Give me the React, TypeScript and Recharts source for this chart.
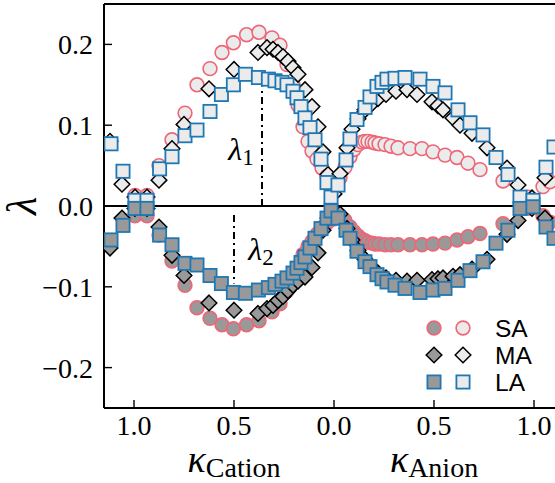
import React from 'react';
import { ScatterChart, Scatter, XAxis, YAxis, ReferenceLine, ReferenceDot, Legend, Label } from 'recharts';

// ---- axes ----
const X_DOMAIN: [number, number] = [-1.15, 1.115];
const Y_DOMAIN: [number, number] = [-0.25, 0.25];
const xTicks = [-1, -0.5, 0, 0.5, 1];
const yTicks = [-0.2, -0.1, 0, 0.1, 0.2];
const xGroupLabels = ['Cation', 'Anion'];
const xGroupCenters = [-0.5, 0.5];
const seriesNames = ['SA', 'MA', 'LA'];

// ---- data (negative kappa = cation side, positive = anion side) ----
const saKappa = [
  -0.995, -0.935, -0.875, -0.81, -0.745, -0.685, -0.62, -0.56, -0.503, -0.437, -0.375, -0.31, -0.27, -0.235,
  -0.205, -0.18, -0.155, -0.13, -0.11, -0.085, -0.06, -0.035, 0,
  0.03, 0.055, 0.08, 0.1, 0.12, 0.14, 0.155, 0.17, 0.19, 0.205, 0.225, 0.255, 0.285, 0.32, 0.38, 0.44, 0.495,
  0.555, 0.615, 0.67, 0.73, 0.845, 0.97, 1.045, 1.08,
];
const saLambda1 = [
  0.013, 0.013, 0.05, 0.082, 0.115, 0.15, 0.17, 0.19, 0.202, 0.212, 0.215, 0.208, 0.199, 0.175,
  0.15, 0.125, 0.098, 0.08, 0.068, 0.058, 0.047, 0.037, 0.028,
  0.035, 0.048, 0.061, 0.07, 0.076, 0.079, 0.08, 0.08, 0.079, 0.078, 0.077, 0.076, 0.074, 0.072, 0.071, 0.071, 0.067,
  0.063, 0.06, 0.053, 0.045, 0.031, 0.011, 0.024, 0.03,
];
const saLambda2 = [
  -0.012, -0.012, -0.036, -0.068, -0.098, -0.126, -0.139, -0.147, -0.152, -0.147, -0.142, -0.131, -0.121, -0.105,
  -0.09, -0.075, -0.06, -0.05, -0.044, -0.035, -0.027, -0.021, -0.016,
  -0.012, -0.018, -0.026, -0.032, -0.037, -0.041, -0.043, -0.045, -0.046, -0.047, -0.047, -0.048, -0.048, -0.048, -0.048, -0.048, -0.047,
  -0.046, -0.042, -0.038, -0.034, -0.022, -0.003, -0.012, -0.02,
];

const maKappa = [
  -1.12, -1.06, -0.995, -0.935, -0.875, -0.81, -0.75, -0.625, -0.5, -0.38, -0.335, -0.305, -0.28, -0.255,
  -0.23, -0.205, -0.18, -0.145, -0.11, -0.08, -0.055, -0.03, 0,
  0.03, 0.065, 0.09, 0.12, 0.155, 0.19, 0.22, 0.26, 0.31, 0.365, 0.415, 0.49, 0.52, 0.545, 0.595, 0.63, 0.69,
  0.765, 0.865, 0.92, 0.99, 1.055,
];
const maLambda1 = [
  0.08, 0.027, 0.011, 0.011, 0.032, 0.071, 0.101, 0.145, 0.169, 0.19, 0.196, 0.194, 0.19, 0.185,
  0.179, 0.171, 0.163, 0.144, 0.123, 0.098, 0.067, 0.039, 0.015,
  0.04, 0.072, 0.095, 0.108, 0.119, 0.127, 0.133, 0.138, 0.142, 0.144, 0.138, 0.129, 0.124, 0.119, 0.109, 0.1, 0.09,
  0.072, 0.047, 0.026, 0.01, 0.035,
];
const maLambda2 = [
  -0.052, -0.015, -0.003, -0.003, -0.026, -0.061, -0.086, -0.12, -0.129, -0.133, -0.127, -0.123, -0.117, -0.112,
  -0.105, -0.098, -0.093, -0.088, -0.076, -0.058, -0.03, -0.015, -0.005,
  -0.01, -0.028, -0.042, -0.055, -0.066, -0.076, -0.083, -0.089, -0.092, -0.093, -0.092, -0.091, -0.09, -0.089, -0.087, -0.085, -0.078,
  -0.066, -0.035, -0.018, -0.003, -0.015,
];

const laKappa = [
  -1.115, -1.055, -0.995, -0.935, -0.872, -0.81, -0.745, -0.685, -0.62, -0.563, -0.503, -0.443, -0.378, -0.328,
  -0.295, -0.26, -0.235, -0.205, -0.185, -0.165, -0.145, -0.12, -0.095, -0.065, -0.035, -0.015,
  0.02, 0.06, 0.08, 0.115, 0.155, 0.18, 0.215, 0.24, 0.265, 0.305, 0.355, 0.43, 0.495, 0.555, 0.62, 0.68,
  0.745, 0.81, 0.87, 0.93, 0.995, 1.06, 1.1,
];
const laLambda1 = [
  0.077, 0.043, 0.007, 0.007, 0.046, 0.061, 0.087, 0.094, 0.117, 0.138, 0.15, 0.163, 0.159, 0.157,
  0.155, 0.153, 0.15, 0.142, 0.134, 0.123, 0.109, 0.097, 0.082, 0.058, 0.029, 0.011,
  0.026, 0.057, 0.083, 0.107, 0.122, 0.135, 0.148, 0.153, 0.157, 0.158, 0.159, 0.157, 0.148, 0.14, 0.119, 0.103,
  0.088, 0.06, 0.039, 0.011, 0.007, 0.048, 0.073,
];
const laLambda2 = [
  -0.042, -0.024, -0.003, -0.003, -0.036, -0.048, -0.071, -0.073, -0.086, -0.096, -0.107, -0.108, -0.104, -0.101,
  -0.097, -0.093, -0.089, -0.083, -0.077, -0.07, -0.063, -0.052, -0.04, -0.028, -0.015, -0.006,
  -0.015, -0.03, -0.04, -0.056, -0.069, -0.075, -0.085, -0.09, -0.094, -0.098, -0.102, -0.107, -0.104, -0.102, -0.092, -0.08,
  -0.069, -0.046, -0.03, -0.003, -0.001, -0.026, -0.04,
];

// annotation markers (dash-dot lines and labels)
const lambda1Line = { x: -0.36, from: 0, to: 0.148 };
const lambda2Line = { x: -0.5, from: -0.011, to: -0.096 };
const lambda1Label = { x: -0.465, y: 0.057, sub: '1' };
const lambda2Label = { x: -0.365, y: -0.067, sub: '2' };

// ---- styles ----
const PINK = '#ee6677';
const BLUE = '#1f78b4';
const BLACK = '#000000';
const DARK = '#999999';
const LIGHT = '#ebebeb';
const SERIF = '"Liberation Serif", "DejaVu Serif", serif';
const SANS = '"Liberation Sans", Arial, sans-serif';

const toPoints = (xs: number[], ys: number[]) => xs.map((x, i) => ({ x, y: ys[i] }));

const drawMarker = (kind: string, cx: number, cy: number, fill: string, key?: string) => {
  if (kind === 'SA') {
    return <circle key={key} cx={cx} cy={cy} r={6.9} fill={fill} stroke={PINK} strokeWidth={1.6} />;
  }
  if (kind === 'MA') {
    const d = 7.8;
    return (
      <polygon
        key={key}
        points={`${cx},${cy - d} ${cx + d},${cy} ${cx},${cy + d} ${cx - d},${cy}`}
        fill={fill}
        stroke={BLACK}
        strokeWidth={1.5}
      />
    );
  }
  const h = 6.6;
  return <rect key={key} x={cx - h} y={cy - h} width={2 * h} height={2 * h} fill={fill} stroke={BLUE} strokeWidth={1.8} />;
};

const shapeFor = (kind: string, fill: string) => (props: any) => drawMarker(kind, props.cx, props.cy, fill);

const fmtX = (v: number) => Math.abs(v).toFixed(1);
const fmtY = (v: number) => (v < 0 ? '\u2212' + Math.abs(v).toFixed(1) : v.toFixed(1));

const LegendBox = () => (
  <svg width={130} height={84}>
    {seriesNames.map((name, i) => {
      const cy = 14 + i * 27;
      return (
        <g key={name}>
          {drawMarker(name, 14, cy, DARK)}
          {drawMarker(name, 43, cy, LIGHT)}
          <text x={75} y={cy + 9} fontFamily={SANS} fontSize={24.5} fill="#000">
            {name}
          </text>
        </g>
      );
    })}
  </svg>
);

const lambdaLabel = (sub: string) => (props: any) => {
  const vb = props.viewBox;
  const cx = vb.x + (vb.width || 0) / 2;
  const cy = vb.y + (vb.height || 0) / 2;
  return (
    <text x={cx} y={cy} textAnchor="middle" fontFamily={SERIF} fill="#000">
      <tspan fontStyle="italic" fontSize={32}>λ</tspan>
      <tspan fontSize={23} dy={5}>{sub}</tspan>
    </text>
  );
};

const XLabel = (props: any) => {
  const vb = props.viewBox;
  const pos = (v: number) => vb.x + ((v - X_DOMAIN[0]) / (X_DOMAIN[1] - X_DOMAIN[0])) * vb.width;
  return (
    <g>
      {xGroupLabels.map((lab, i) => (
        <text key={lab} x={pos(xGroupCenters[i])} y={vb.y + 64} textAnchor="middle" fontFamily={SERIF} fill="#000">
          <tspan fontStyle="italic" fontSize={38}>κ</tspan>
          <tspan fontSize={28} dy={5}>{lab}</tspan>
        </text>
      ))}
    </g>
  );
};

const YLabel = (props: any) => {
  const vb = props.viewBox;
  const cx = vb.x + 22;
  const cy = vb.y + vb.height / 2;
  return (
    <text
      x={cx}
      y={cy}
      textAnchor="middle"
      dominantBaseline="central"
      fontFamily={SERIF}
      fontStyle="italic"
      fontSize={42}
      fill="#000"
      transform={`rotate(-90, ${cx}, ${cy})`}
    >
      λ
    </text>
  );
};

const axisLine = { stroke: '#000', strokeWidth: 2 };
const tickLine = { stroke: '#000', strokeWidth: 1.4 };
const tickStyle = { fill: '#000', fontSize: 28, fontFamily: SERIF };

export default function App() {
  return (
    <div style={{ position: 'absolute', left: 0, top: 0, width: 555, height: 483, overflow: 'hidden', background: '#fff' }}>
      <ScatterChart width={560} height={483} margin={{ top: 3, right: 2, bottom: 0, left: 0 }}>
        <XAxis
          type="number"
          dataKey="x"
          domain={X_DOMAIN}
          ticks={xTicks}
          allowDataOverflow
          tickFormatter={fmtX}
          height={75}
          tickSize={-8}
          tickMargin={15}
          axisLine={axisLine}
          tickLine={tickLine}
          tick={tickStyle}
          interval={0}
        >
          <Label content={XLabel} />
        </XAxis>
        <XAxis
          xAxisId="top"
          orientation="top"
          type="number"
          dataKey="x"
          domain={X_DOMAIN}
          ticks={xTicks}
          allowDataOverflow
          height={1}
          tickSize={-8}
          axisLine={axisLine}
          tickLine={tickLine}
          tick={false}
          interval={0}
        />
        <YAxis
          type="number"
          dataKey="y"
          domain={Y_DOMAIN}
          ticks={yTicks}
          allowDataOverflow
          tickFormatter={fmtY}
          width={104}
          tickSize={-8}
          tickMargin={19}
          axisLine={axisLine}
          tickLine={tickLine}
          tick={tickStyle}
          interval={0}
        >
          <Label content={YLabel} />
        </YAxis>
        <YAxis
          yAxisId="right"
          orientation="right"
          type="number"
          dataKey="y"
          domain={Y_DOMAIN}
          ticks={yTicks}
          allowDataOverflow
          width={1}
          tickSize={-8}
          axisLine={axisLine}
          tickLine={tickLine}
          tick={false}
          interval={0}
        />
        <ReferenceLine y={0} stroke="#000" strokeWidth={1.8} />
        <ReferenceLine
          segment={[{ x: lambda1Line.x, y: lambda1Line.from }, { x: lambda1Line.x, y: lambda1Line.to }]}
          stroke="#000"
          strokeWidth={2}
          strokeDasharray="7 4 2 4"
        />
        <ReferenceLine
          segment={[{ x: lambda2Line.x, y: lambda2Line.from }, { x: lambda2Line.x, y: lambda2Line.to }]}
          stroke="#000"
          strokeWidth={2}
          strokeDasharray="7 4 2 4"
        />
        <Scatter name="SA λ1" data={toPoints(saKappa, saLambda1)} shape={shapeFor('SA', LIGHT)} isAnimationActive={false} />
        <Scatter name="SA λ2" data={toPoints(saKappa, saLambda2)} shape={shapeFor('SA', DARK)} isAnimationActive={false} />
        <Scatter name="MA λ1" data={toPoints(maKappa, maLambda1)} shape={shapeFor('MA', LIGHT)} isAnimationActive={false} />
        <Scatter name="MA λ2" data={toPoints(maKappa, maLambda2)} shape={shapeFor('MA', DARK)} isAnimationActive={false} />
        <Scatter name="LA λ1" data={toPoints(laKappa, laLambda1)} shape={shapeFor('LA', LIGHT)} isAnimationActive={false} />
        <Scatter name="LA λ2" data={toPoints(laKappa, laLambda2)} shape={shapeFor('LA', DARK)} isAnimationActive={false} />
        <ReferenceDot x={lambda1Label.x} y={lambda1Label.y} r={1} fill="none" stroke="none" label={lambdaLabel(lambda1Label.sub)} />
        <ReferenceDot x={lambda2Label.x} y={lambda2Label.y} r={1} fill="none" stroke="none" label={lambdaLabel(lambda2Label.sub)} />
        <Legend
          content={LegendBox}
          layout="vertical"
          align="center"
          verticalAlign="middle"
          wrapperStyle={{ left: 420, top: 314, width: 130, height: 84 }}
        />
      </ScatterChart>
    </div>
  );
}
